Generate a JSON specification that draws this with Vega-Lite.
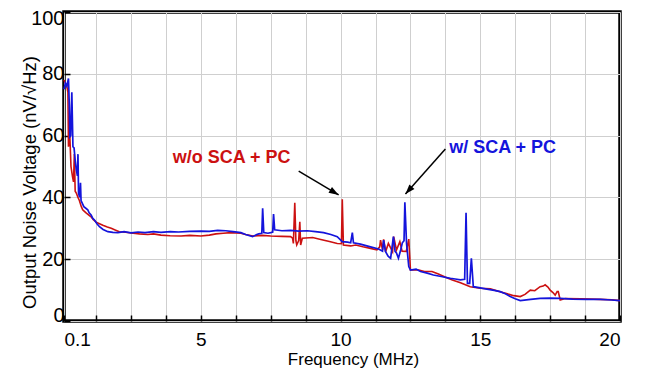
{
  "$schema": "https://vega.github.io/schema/vega-lite/v6.json",
  "width": 556,
  "height": 309,
  "autosize": {"type": "none"},
  "padding": {"left": 64, "top": 12, "right": 30, "bottom": 59},
  "background": "white",
  "config": {
    "view": {"stroke": "black", "strokeWidth": 3.5},
    "font": "Liberation Sans"
  },
  "datasets": {
    "noise": [
      {"s": "red", "f": 0.1, "v": 78}, {"s": "red", "f": 0.15, "v": 77}, {"s": "red", "f": 0.2, "v": 76}, {"s": "red", "f": 0.24, "v": 74},
      {"s": "red", "f": 0.26, "v": 56.4}, {"s": "red", "f": 0.3, "v": 62}, {"s": "red", "f": 0.35, "v": 50}, {"s": "red", "f": 0.4, "v": 47},
      {"s": "red", "f": 0.44, "v": 45}, {"s": "red", "f": 0.47, "v": 54}, {"s": "red", "f": 0.5, "v": 42}, {"s": "red", "f": 0.54, "v": 41.4},
      {"s": "red", "f": 0.6, "v": 40}, {"s": "red", "f": 0.65, "v": 39}, {"s": "red", "f": 0.72, "v": 37}, {"s": "red", "f": 0.77, "v": 36},
      {"s": "red", "f": 0.83, "v": 35.5}, {"s": "red", "f": 0.89, "v": 35}, {"s": "red", "f": 1.0, "v": 34.2}, {"s": "red", "f": 1.07, "v": 33.7},
      {"s": "red", "f": 1.15, "v": 32.8}, {"s": "red", "f": 1.25, "v": 32}, {"s": "red", "f": 1.37, "v": 31.5}, {"s": "red", "f": 1.49, "v": 31},
      {"s": "red", "f": 1.65, "v": 30.4}, {"s": "red", "f": 1.79, "v": 30}, {"s": "red", "f": 1.95, "v": 29.4}, {"s": "red", "f": 2.08, "v": 28.9},
      {"s": "red", "f": 2.3, "v": 28.7}, {"s": "red", "f": 2.5, "v": 28.5}, {"s": "red", "f": 2.8, "v": 28.2}, {"s": "red", "f": 3.1, "v": 28.0},
      {"s": "red", "f": 3.3, "v": 28.2}, {"s": "red", "f": 3.57, "v": 27.8}, {"s": "red", "f": 3.9, "v": 27.6}, {"s": "red", "f": 4.29, "v": 27.5},
      {"s": "red", "f": 4.6, "v": 27.7}, {"s": "red", "f": 5.0, "v": 27.5}, {"s": "red", "f": 5.3, "v": 27.8}, {"s": "red", "f": 5.54, "v": 28.2},
      {"s": "red", "f": 5.8, "v": 28.4}, {"s": "red", "f": 6.07, "v": 28.6}, {"s": "red", "f": 6.25, "v": 28.5}, {"s": "red", "f": 6.43, "v": 28.4},
      {"s": "red", "f": 6.6, "v": 28.0}, {"s": "red", "f": 6.86, "v": 27.5}, {"s": "red", "f": 7.2, "v": 27.7}, {"s": "red", "f": 7.5, "v": 27.5},
      {"s": "red", "f": 7.9, "v": 27.4}, {"s": "red", "f": 8.21, "v": 27.3}, {"s": "red", "f": 8.28, "v": 26.8}, {"s": "red", "f": 8.31, "v": 25.1},
      {"s": "red", "f": 8.36, "v": 38.3}, {"s": "red", "f": 8.4, "v": 26}, {"s": "red", "f": 8.43, "v": 24.6}, {"s": "red", "f": 8.5, "v": 26},
      {"s": "red", "f": 8.54, "v": 32.1}, {"s": "red", "f": 8.57, "v": 24.6}, {"s": "red", "f": 8.63, "v": 26.8}, {"s": "red", "f": 9.0, "v": 27},
      {"s": "red", "f": 9.29, "v": 26.4}, {"s": "red", "f": 9.6, "v": 25.7}, {"s": "red", "f": 9.88, "v": 25.1}, {"s": "red", "f": 10.03, "v": 25},
      {"s": "red", "f": 10.06, "v": 39.4}, {"s": "red", "f": 10.1, "v": 24.6}, {"s": "red", "f": 10.36, "v": 24.3}, {"s": "red", "f": 10.54, "v": 24.6},
      {"s": "red", "f": 10.8, "v": 24.0}, {"s": "red", "f": 11.07, "v": 23.5}, {"s": "red", "f": 11.3, "v": 23.0}, {"s": "red", "f": 11.4, "v": 24},
      {"s": "red", "f": 11.43, "v": 26.2}, {"s": "red", "f": 11.5, "v": 23}, {"s": "red", "f": 11.54, "v": 26.4}, {"s": "red", "f": 11.61, "v": 22.4},
      {"s": "red", "f": 11.71, "v": 25.1}, {"s": "red", "f": 11.86, "v": 22.4}, {"s": "red", "f": 11.9, "v": 27.3}, {"s": "red", "f": 12.0, "v": 23},
      {"s": "red", "f": 12.12, "v": 25.7}, {"s": "red", "f": 12.2, "v": 22.6}, {"s": "red", "f": 12.35, "v": 22.5}, {"s": "red", "f": 12.44, "v": 26.5},
      {"s": "red", "f": 12.5, "v": 16.5}, {"s": "red", "f": 12.8, "v": 16.5}, {"s": "red", "f": 13.0, "v": 16.0}, {"s": "red", "f": 13.27, "v": 16},
      {"s": "red", "f": 13.5, "v": 15.2}, {"s": "red", "f": 13.8, "v": 14}, {"s": "red", "f": 14.0, "v": 13.3}, {"s": "red", "f": 14.29, "v": 12.4},
      {"s": "red", "f": 14.64, "v": 11.1}, {"s": "red", "f": 15.0, "v": 10.6}, {"s": "red", "f": 15.36, "v": 10.4}, {"s": "red", "f": 15.71, "v": 9.5},
      {"s": "red", "f": 16.0, "v": 8.7}, {"s": "red", "f": 16.2, "v": 8.2}, {"s": "red", "f": 16.43, "v": 7.9}, {"s": "red", "f": 16.6, "v": 8.6},
      {"s": "red", "f": 16.79, "v": 10}, {"s": "red", "f": 16.95, "v": 9.8}, {"s": "red", "f": 17.14, "v": 11.1}, {"s": "red", "f": 17.25, "v": 11.3},
      {"s": "red", "f": 17.32, "v": 11.7}, {"s": "red", "f": 17.42, "v": 11.0}, {"s": "red", "f": 17.5, "v": 10}, {"s": "red", "f": 17.6, "v": 9.2},
      {"s": "red", "f": 17.68, "v": 8.4}, {"s": "red", "f": 17.75, "v": 9.5}, {"s": "red", "f": 17.79, "v": 9.5}, {"s": "red", "f": 17.86, "v": 6.8},
      {"s": "red", "f": 18.04, "v": 7.3}, {"s": "red", "f": 18.6, "v": 7.2}, {"s": "red", "f": 19.29, "v": 7}, {"s": "red", "f": 19.7, "v": 6.9},
      {"s": "red", "f": 20, "v": 6.6},
      {"s": "blue", "f": 0.1, "v": 75}, {"s": "blue", "f": 0.15, "v": 77}, {"s": "blue", "f": 0.2, "v": 76}, {"s": "blue", "f": 0.26, "v": 78.5},
      {"s": "blue", "f": 0.29, "v": 70}, {"s": "blue", "f": 0.31, "v": 59.6}, {"s": "blue", "f": 0.34, "v": 60}, {"s": "blue", "f": 0.38, "v": 74},
      {"s": "blue", "f": 0.42, "v": 56.4}, {"s": "blue", "f": 0.46, "v": 56}, {"s": "blue", "f": 0.5, "v": 52}, {"s": "blue", "f": 0.54, "v": 49},
      {"s": "blue", "f": 0.58, "v": 47}, {"s": "blue", "f": 0.6, "v": 54}, {"s": "blue", "f": 0.62, "v": 41.4}, {"s": "blue", "f": 0.66, "v": 40},
      {"s": "blue", "f": 0.69, "v": 44.7}, {"s": "blue", "f": 0.71, "v": 39}, {"s": "blue", "f": 0.76, "v": 38}, {"s": "blue", "f": 0.81, "v": 37},
      {"s": "blue", "f": 0.88, "v": 36.5}, {"s": "blue", "f": 0.95, "v": 36}, {"s": "blue", "f": 1.0, "v": 35}, {"s": "blue", "f": 1.07, "v": 34.3},
      {"s": "blue", "f": 1.13, "v": 33.2}, {"s": "blue", "f": 1.19, "v": 32.7}, {"s": "blue", "f": 1.28, "v": 31.5}, {"s": "blue", "f": 1.37, "v": 30.5},
      {"s": "blue", "f": 1.5, "v": 29.6}, {"s": "blue", "f": 1.67, "v": 28.9}, {"s": "blue", "f": 1.85, "v": 28.7}, {"s": "blue", "f": 2.03, "v": 28.6},
      {"s": "blue", "f": 2.25, "v": 28.9}, {"s": "blue", "f": 2.5, "v": 28.5}, {"s": "blue", "f": 2.75, "v": 28.8}, {"s": "blue", "f": 3.0, "v": 28.6},
      {"s": "blue", "f": 3.3, "v": 28.9}, {"s": "blue", "f": 3.57, "v": 28.7}, {"s": "blue", "f": 3.9, "v": 28.9}, {"s": "blue", "f": 4.2, "v": 28.8},
      {"s": "blue", "f": 4.6, "v": 29.0}, {"s": "blue", "f": 5.0, "v": 29.1}, {"s": "blue", "f": 5.3, "v": 29.0}, {"s": "blue", "f": 5.6, "v": 29.3},
      {"s": "blue", "f": 5.89, "v": 29.2}, {"s": "blue", "f": 6.15, "v": 28.9}, {"s": "blue", "f": 6.43, "v": 28.6}, {"s": "blue", "f": 6.6, "v": 28.0},
      {"s": "blue", "f": 6.85, "v": 27.3}, {"s": "blue", "f": 7.0, "v": 28.0}, {"s": "blue", "f": 7.07, "v": 28.2}, {"s": "blue", "f": 7.18, "v": 28.4},
      {"s": "blue", "f": 7.21, "v": 36.5}, {"s": "blue", "f": 7.25, "v": 28.6}, {"s": "blue", "f": 7.4, "v": 28.4}, {"s": "blue", "f": 7.5, "v": 28.6},
      {"s": "blue", "f": 7.57, "v": 28.8}, {"s": "blue", "f": 7.6, "v": 34.6}, {"s": "blue", "f": 7.64, "v": 29.5}, {"s": "blue", "f": 7.9, "v": 29.2},
      {"s": "blue", "f": 8.21, "v": 29.3}, {"s": "blue", "f": 8.5, "v": 29.1}, {"s": "blue", "f": 8.81, "v": 29.2}, {"s": "blue", "f": 9.1, "v": 28.9},
      {"s": "blue", "f": 9.39, "v": 28.6}, {"s": "blue", "f": 9.65, "v": 28.0}, {"s": "blue", "f": 9.88, "v": 27.3}, {"s": "blue", "f": 10.06, "v": 25.7},
      {"s": "blue", "f": 10.25, "v": 25.5}, {"s": "blue", "f": 10.36, "v": 25.3}, {"s": "blue", "f": 10.42, "v": 28.6}, {"s": "blue", "f": 10.46, "v": 25.3},
      {"s": "blue", "f": 10.71, "v": 24.9}, {"s": "blue", "f": 11.07, "v": 24}, {"s": "blue", "f": 11.36, "v": 23.3}, {"s": "blue", "f": 11.5, "v": 22.6},
      {"s": "blue", "f": 11.54, "v": 26.2}, {"s": "blue", "f": 11.61, "v": 22.4}, {"s": "blue", "f": 11.7, "v": 21.0}, {"s": "blue", "f": 11.79, "v": 20.3},
      {"s": "blue", "f": 11.89, "v": 27.3}, {"s": "blue", "f": 11.95, "v": 22.5}, {"s": "blue", "f": 12.0, "v": 22}, {"s": "blue", "f": 12.07, "v": 20.3},
      {"s": "blue", "f": 12.15, "v": 23}, {"s": "blue", "f": 12.21, "v": 25.3}, {"s": "blue", "f": 12.27, "v": 26}, {"s": "blue", "f": 12.3, "v": 38.4},
      {"s": "blue", "f": 12.36, "v": 25.1}, {"s": "blue", "f": 12.44, "v": 17.6}, {"s": "blue", "f": 12.5, "v": 16.5}, {"s": "blue", "f": 12.7, "v": 16.8},
      {"s": "blue", "f": 12.86, "v": 16}, {"s": "blue", "f": 13.1, "v": 15.5}, {"s": "blue", "f": 13.32, "v": 14.9}, {"s": "blue", "f": 13.6, "v": 14.4},
      {"s": "blue", "f": 13.93, "v": 13.8}, {"s": "blue", "f": 14.1, "v": 13.6}, {"s": "blue", "f": 14.29, "v": 13.3}, {"s": "blue", "f": 14.44, "v": 13.5},
      {"s": "blue", "f": 14.49, "v": 35}, {"s": "blue", "f": 14.54, "v": 12.2}, {"s": "blue", "f": 14.62, "v": 12.2}, {"s": "blue", "f": 14.68, "v": 20.3},
      {"s": "blue", "f": 14.75, "v": 11.1}, {"s": "blue", "f": 15.0, "v": 10.7}, {"s": "blue", "f": 15.24, "v": 10.3}, {"s": "blue", "f": 15.5, "v": 9.9},
      {"s": "blue", "f": 15.71, "v": 9.5}, {"s": "blue", "f": 15.9, "v": 8.8}, {"s": "blue", "f": 16.07, "v": 7.9}, {"s": "blue", "f": 16.25, "v": 7.2},
      {"s": "blue", "f": 16.43, "v": 6.6}, {"s": "blue", "f": 16.8, "v": 7.0}, {"s": "blue", "f": 17.14, "v": 7.3}, {"s": "blue", "f": 17.5, "v": 7.4},
      {"s": "blue", "f": 17.86, "v": 7.3}, {"s": "blue", "f": 18.3, "v": 7.1}, {"s": "blue", "f": 18.8, "v": 7.0}, {"s": "blue", "f": 19.29, "v": 7.0},
      {"s": "blue", "f": 19.7, "v": 6.8}, {"s": "blue", "f": 20, "v": 6.6}
    ],
    "arrows": [
      {"f": 8.5, "v": 48.5, "f2": 9.93, "v2": 40.8, "angle": 121},
      {"f": 13.75, "v": 55.7, "f2": 12.32, "v2": 41.1, "angle": 221.6}
    ],
    "labels": [
      {"f": 6.1, "v": 52.7, "text": "w/o SCA + PC", "c": "red"},
      {"f": 15.8, "v": 56.0, "text": "w/ SCA + PC", "c": "blue"}
    ]
  },
  "encoding": {
    "x": {
      "field": "f", "type": "quantitative",
      "scale": {"domain": [0.1, 20], "nice": false, "zero": false},
      "axis": {
        "title": "Frequency (MHz)",
        "values": [0.1, 1.25, 2.5, 3.75, 5, 6.25, 7.5, 8.75, 10, 11.25, 12.5, 13.75, 15, 16.25, 17.5, 18.75, 20],
        "labelExpr": "datum.value == 0.1 ? '0.1' : (datum.value % 5 == 0 ? format(datum.value, 'd') : '')",
        "labelOverlap": false,
        "labelFont": "Liberation Sans", "labelFontSize": 19, "labelColor": "black",
        "labelPadding": 15,
        "grid": true, "gridColor": "#cfcfcf", "gridWidth": 1,
        "domain": false,
        "tickSize": -6, "tickColor": "black", "tickWidth": 1.5,
        "titleFont": "Liberation Sans", "titleFontSize": 17, "titleFontWeight": "normal", "titleColor": "black",
        "titleX": 289, "titleY": 30
      }
    },
    "y": {
      "field": "v", "type": "quantitative",
      "scale": {"domain": [0, 100], "nice": false},
      "axis": {
        "title": "Output Noise Voltage (nV/√Hz)",
        "values": [0, 20, 40, 60, 80, 100],
        "labelFont": "Liberation Sans", "labelFontSize": 20, "labelColor": "black",
        "labelPadding": 6, "labelFlush": true, "labelFlushOffset": 4,
        "grid": true, "gridColor": "#cfcfcf", "gridWidth": 1,
        "domain": false,
        "tickSize": -6, "tickColor": "black", "tickWidth": 1.5,
        "titleFont": "Liberation Sans", "titleFontSize": 18.5, "titleFontWeight": "normal", "titleColor": "black",
        "titleX": -25, "titleY": 170
      }
    }
  },
  "layer": [
    {
      "data": {"name": "noise"},
      "transform": [{"filter": "datum.s == 'red'"}],
      "mark": {"type": "line", "color": "#cc1111", "strokeWidth": 1.6}
    },
    {
      "data": {"name": "noise"},
      "transform": [{"filter": "datum.s == 'blue'"}],
      "mark": {"type": "line", "color": "#1414dc", "strokeWidth": 1.7}
    },
    {
      "data": {"name": "arrows"},
      "mark": {"type": "rule", "color": "black", "strokeWidth": 1.5},
      "encoding": {
        "x2": {"field": "f2"},
        "y2": {"field": "v2"}
      }
    },
    {
      "data": {"name": "arrows"},
      "mark": {"type": "point", "shape": "M0,0L0.55,1.6L-0.55,1.6Z", "filled": true, "color": "black", "size": 150, "opacity": 1},
      "encoding": {
        "x": {"field": "f2", "type": "quantitative"},
        "y": {"field": "v2", "type": "quantitative"},
        "angle": {"field": "angle", "type": "quantitative", "scale": null}
      }
    },
    {
      "data": {"name": "labels"},
      "mark": {"type": "text", "font": "Liberation Sans", "fontSize": 18, "fontWeight": "bold", "align": "center", "baseline": "middle"},
      "encoding": {
        "text": {"field": "text"},
        "color": {"field": "c", "type": "nominal", "scale": {"domain": ["red", "blue"], "range": ["#cc1111", "#1414dc"]}, "legend": null}
      }
    }
  ]
}
